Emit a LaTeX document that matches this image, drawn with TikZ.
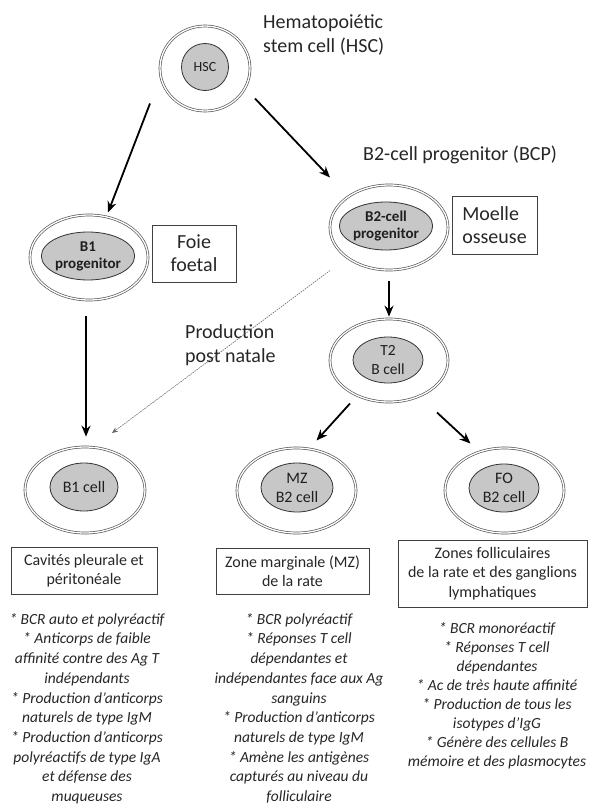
\documentclass[tikz,border=0pt]{standalone}
\usepackage{fontspec}
\setmainfont{Carlito}
\usetikzlibrary{shapes.geometric,arrows.meta,calc}
\begin{document}
\begin{tikzpicture}[x=1pt,y=-1pt,
  outer/.style={ellipse, draw=black!65, double=white, double distance=1.3pt, line width=0.7pt, minimum width=118pt, minimum height=85pt, inner sep=0pt},
  inner/.style={ellipse, draw=black!80, fill=black!22, line width=0.8pt, minimum width=70pt, minimum height=48pt, inner sep=0pt, align=center, text=black!88},
  lab/.style={text=black!85, align=left, font=\fontsize{20}{24}\selectfont, inner sep=0pt},
  place/.style={draw=black!75, line width=0.9pt, text=black!85, inner sep=0pt},
  note/.style={text=black!85, align=center, font=\fontsize{15.5}{19.7}\selectfont\itshape, inner sep=0pt},
  arr/.style={line width=1.8pt, -{Stealth[length=11pt,width=9pt]}},
  dotarr/.style={draw=black!60, line width=0.6pt, dash pattern=on 1.5pt off 1pt, -{Stealth[length=6pt,width=5pt]}}
]
\useasboundingbox (0,0) rectangle (593,808);

% cells
\node[outer, minimum width=90pt, minimum height=85pt] (hsc) at (205,68.5) {};
\node[inner, minimum width=47pt, minimum height=47pt, font=\fontsize{14}{16}\selectfont] (hscin) at (205,67) {HSC};

\node[outer] (b1p) at (89,257.5) {};
\node[inner, font=\fontsize{15}{17}\selectfont\bfseries] (b1pin) at (88,256) {B1\\progenitor};

\node[outer] (b2p) at (389,227.5) {};
\node[inner, minimum width=72pt, font=\fontsize{15}{17}\selectfont\bfseries] (b2pin) at (386,226) {B2-cell\\progenitor};

\node[outer, minimum height=83pt] (t2) at (389,360.5) {};
\node[inner, minimum height=46pt, font=\fontsize{15.5}{19}\selectfont] (t2in) at (388,360) {T2\\B cell};

\node[outer, minimum width=120pt, minimum height=86pt] (b1c) at (85,490) {};
\node[inner, minimum width=68pt, font=\fontsize{16}{19}\selectfont] (b1cin) at (84,487) {B1 cell};

\node[outer, minimum width=119pt, minimum height=85pt] (mz) at (296.5,490.5) {};
\node[inner, minimum width=72pt, minimum height=49pt, font=\fontsize{16}{19}\selectfont] (mzin) at (297,487.5) {MZ\\B2 cell};

\node[outer, minimum width=119pt, minimum height=85pt] (fo) at (504.5,490.5) {};
\node[inner, minimum width=70pt, font=\fontsize{16}{19}\selectfont] (foin) at (504,488) {FO\\B2 cell};

% labels
\node[lab, anchor=west] (hsclab) at (263,35) {Hematopoiétic\\stem cell (HSC)};
\node[lab, anchor=west] (bcplab) at (363,155) {B2-cell progenitor (BCP)};
\node[lab, anchor=west] (postlab) at (185,345) {Production\\post natale};

% place boxes
\node[place, minimum width=84pt, minimum height=57pt, align=center, font=\fontsize{20}{23}\selectfont] (foie) at (194,253.5) {Foie\\foetal};
\node[place, minimum width=85pt, minimum height=58pt, align=left, font=\fontsize{20}{23}\selectfont] (moelle) at (494.5,225) {Moelle\\osseuse};
\node[place, minimum width=146pt, minimum height=47pt, align=center, font=\fontsize{16}{19.5}\selectfont] (cav) at (84,570.5) {Cavités pleurale et\\péritonéale};
\node[place, minimum width=153pt, minimum height=46pt, align=center, font=\fontsize{16}{19.5}\selectfont] (zmz) at (292.5,571) {Zone marginale (MZ)\\de la rate};
\node[place, minimum width=189pt, minimum height=67pt, align=center, font=\fontsize{16}{19.5}\selectfont] (zfo) at (492.5,573.5) {Zones folliculaires\\de la rate et des ganglions\\lymphatiques};

% notes
\node[note, anchor=north] (n1) at (87,613) {* BCR auto et polyréactif\\* Anticorps de faible\\affinité contre des Ag T\\indépendants\\* Production d’anticorps\\naturels de type IgM\\* Production d’anticorps\\polyréactifs de type IgA\\et défense des\\muqueuses};
\node[note, anchor=north] (n2) at (299,613) {* BCR polyréactif\\* Réponses T cell\\dépendantes et\\indépendantes face aux Ag\\sanguins\\* Production d’anticorps\\naturels de type IgM\\* Amène les antigènes\\capturés au niveau du\\folliculaire};
\node[note, anchor=north, font=\fontsize{15.5}{19}\selectfont\itshape] (n3) at (497,622) {* BCR monoréactif\\* Réponses T cell\\dépendantes\\* Ac de très haute affinité\\* Production de tous les\\isotypes d’IgG\\* Génère des cellules B\\mémoire et des plasmocytes};

% connectors
\draw[arr] ($(hsc)+(-55,35)$) -- ($(b1p)+(19,-45)$);
\draw[arr] ($(hsc)+(50,30)$) -- ($(b2p)+(-59,-50)$);
\draw[arr] ($(b2p.south)+(0,11)$) -- ($(t2.north)+(0,-2)$);
\draw[arr] ($(b1p.south)+(-3,16)$) -- ($(b1c.north)+(1,-10)$);
\draw[dotarr] ($(b2p)+(-59,43)$) -- ($(b1c)+(27,-57)$);
\draw[arr] ($(t2)+(-39,43)$) -- ($(mz)+(20,-50)$);
\draw[arr] ($(t2)+(48,52)$) -- ($(fo)+(-34,-47)$);
\end{tikzpicture}
\end{document}
